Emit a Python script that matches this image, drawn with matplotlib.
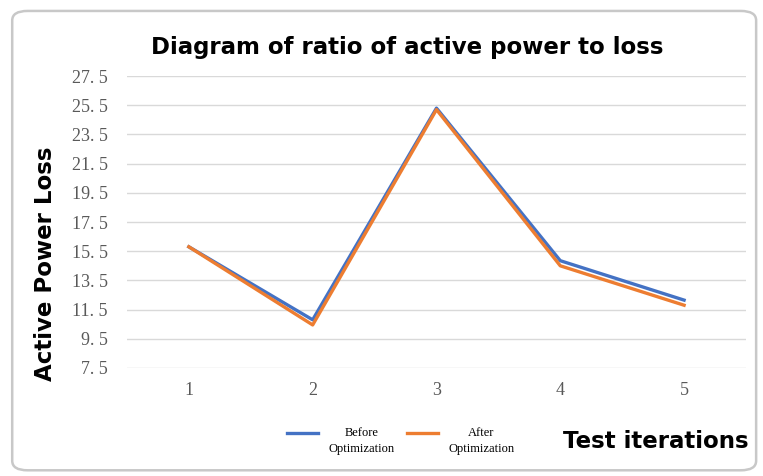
import matplotlib.pyplot as plt
from matplotlib.patches import FancyBboxPatch

iterations = [1, 2, 3, 4, 5]
before_opt = [15.8, 10.8, 25.3, 14.85, 12.15]
after_opt = [15.8, 10.45, 25.2, 14.5, 11.8]
y_ticks = [7.5, 9.5, 11.5, 13.5, 15.5, 17.5, 19.5, 21.5, 23.5, 25.5, 27.5]

blue = '#4472C4'
orange = '#ED7D31'

fig = plt.figure(figsize=(7.63, 4.76), dpi=100)

# rounded chart frame
frame = FancyBboxPatch((0.016, 0.012), 0.975, 0.965, boxstyle='round,pad=0,rounding_size=0.02',
                       transform=fig.transFigure, fill=False, ec='#c8c8c8', lw=1.8)
fig.patches.append(frame)

ax = fig.add_axes([0.1664, 0.2269, 0.8113, 0.6134])
ax.plot(iterations, before_opt, color=blue, lw=2.4, label='Before\nOptimization')
ax.plot(iterations, after_opt, color=orange, lw=2.4, label='After\nOptimization')

ax.set_xlim(0.5, 5.5)
ax.set_ylim(7.5, 27.5)
ax.set_yticks(y_ticks)
ax.set_yticklabels([f'{v:.1f}'.replace('.', '. ') for v in y_ticks],
                   family='Liberation Serif', fontsize=13, color='#595959')
ax.set_xticks(iterations)
ax.set_xticklabels([str(i) for i in iterations], family='Liberation Serif', fontsize=13, color='#595959')
ax.tick_params(axis='y', length=0, pad=14)
ax.tick_params(axis='x', length=0, pad=10)
ax.grid(axis='y', color='#d9d9d9', lw=1)
ax.set_axisbelow(True)
for s in ax.spines.values():
    s.set_visible(False)

fig.text(0.534, 0.900, 'Diagram of ratio of active power to loss', ha='center', va='center',
         family='DejaVu Sans', weight='bold', fontsize=16.5)
fig.text(0.060, 0.445, 'Active Power Loss', ha='center', va='center', rotation=90,
         family='DejaVu Sans', weight='bold', fontsize=16.5)
fig.text(0.860, 0.072, 'Test iterations', ha='center', va='center',
         family='DejaVu Sans', weight='bold', fontsize=16.5)

leg = fig.legend(loc='center', bbox_to_anchor=(0.525, 0.074), ncol=2, frameon=False,
                 prop={'family': 'Liberation Serif', 'size': 9}, handlelength=2.5,
                 columnspacing=1.0, handletextpad=0.8)
for t in leg.get_texts():
    t.set_ha('center')
    t.set_linespacing(1.4)
# legend lines sit level with the first text line
for ln in leg.get_lines():
    ln.set_ydata([y + 6 for y in ln.get_ydata()])

fig.savefig('out.png', dpi=100)
